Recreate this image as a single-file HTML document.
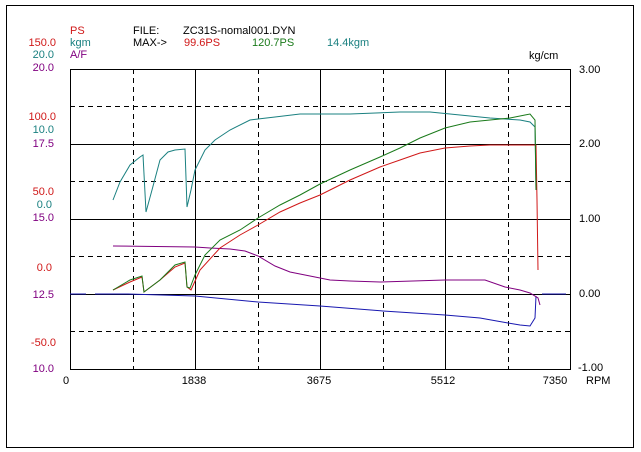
<!DOCTYPE html>
<html><head><meta charset="utf-8"><style>
body{margin:0;background:#fff}
svg{display:block}
text{font-family:"Liberation Sans",sans-serif;font-size:11px}
</style></head><body>
<svg width="641" height="452" xmlns="http://www.w3.org/2000/svg">
<rect width="641" height="452" fill="#fff"/>
<rect x="6.5" y="5.5" width="627" height="442" fill="none" stroke="#000"/>
<g stroke="#000" stroke-width="1">
<g stroke-dasharray="5,4">
<line x1="133.5" y1="69" x2="133.5" y2="369"/><line x1="258.5" y1="69" x2="258.5" y2="369"/>
<line x1="383.5" y1="69" x2="383.5" y2="369"/><line x1="508.5" y1="69" x2="508.5" y2="369"/>
<line x1="70" y1="106.5" x2="570" y2="106.5"/><line x1="70" y1="181.5" x2="570" y2="181.5"/>
<line x1="70" y1="256.5" x2="570" y2="256.5"/><line x1="70" y1="331.5" x2="570" y2="331.5"/>
</g>
<line x1="195.5" y1="69" x2="195.5" y2="369"/><line x1="320.5" y1="69" x2="320.5" y2="369"/><line x1="445.5" y1="69" x2="445.5" y2="369"/>
<line x1="70" y1="144.5" x2="570" y2="144.5"/><line x1="70" y1="219.5" x2="570" y2="219.5"/><line x1="70" y1="294.5" x2="570" y2="294.5"/>
<rect x="70.5" y="69.5" width="500" height="300" fill="none"/>
</g>
<g fill="none" stroke-width="1">
<polyline stroke="#1818b0" points="70,294 86,294"/>
<polyline stroke="#1818b0" points="95,294 128,294 195,296 258,302 320,306 383,311 445,315 480,318 508,323 520,325 530,326 535,318 536,296"/>
<polyline stroke="#1818b0" points="542,294 566,294"/>
<polyline stroke="#800080" points="113,246 195,247 210,248 230,249 245,251 258,256 275,266 290,272 310,276 330,280 350,281 380,282 445,280 485,280 505,287 520,290 530,293 538,298 540,305"/>
<polyline stroke="#1a8080" points="113,200 120,182 130,165 140,157 143,155 146,212 152,190 160,160 168,152 175,150 185,149 187,207 191,190 195,170 205,150 215,140 230,130 250,120 258,119 275,117 300,114 350,114 400,112 430,112 460,115 490,118 520,120 530,122 535,127 536,190"/>
<polyline stroke="#d01818" points="113,290 130,282 142,277 144,292 160,280 175,267 185,263 187,287 191,290 200,270 220,248 240,235 258,225 280,212 300,203 320,195 350,180 380,167 400,160 420,153 445,148 470,146 490,145 508,145 532,145 536,145 537,200 538,270"/>
<polyline stroke="#1a7a1a" points="113,290 130,280 142,276 144,292 160,280 175,265 185,262 187,287 190,288 195,275 205,255 220,240 240,230 258,218 280,205 300,195 320,184 350,170 380,157 400,148 420,138 445,128 470,122 490,120 510,118 525,115 530,114 535,120 536,190"/>
</g>
<g text-anchor="end">
<text x="56" y="46" fill="#d01818">150.0</text><text x="54" y="58" fill="#1a8080">20.0</text><text x="54" y="71" fill="#800080">20.0</text>
<text x="56" y="120" fill="#d01818">100.0</text><text x="54" y="133" fill="#1a8080">10.0</text><text x="54" y="147" fill="#800080">17.5</text>
<text x="54" y="195" fill="#d01818">50.0</text><text x="52" y="208" fill="#1a8080">0.0</text><text x="54" y="221" fill="#800080">15.0</text>
<text x="52" y="271" fill="#d01818">0.0</text>
<text x="54" y="298" fill="#800080">12.5</text>
<text x="56" y="346" fill="#d01818">-50.0</text>
<text x="54" y="372" fill="#800080">10.0</text>
</g>
<text x="70" y="34" fill="#d01818">PS</text><text x="70" y="46" fill="#1a8080">kgm</text><text x="70" y="58" fill="#800080">A/F</text>
<text x="133" y="34">FILE:</text><text x="183" y="34">ZC31S-nomal001.DYN</text>
<text x="133" y="46">MAX-&gt;</text><text x="184" y="46" fill="#d01818">99.6PS</text><text x="252" y="46" fill="#1a7a1a">120.7PS</text><text x="327" y="46" fill="#1a8080">14.4kgm</text>
<text x="529" y="59">kg/cm</text>
<text x="579" y="73">3.00</text><text x="579" y="147">2.00</text><text x="579" y="222">1.00</text><text x="579" y="297">0.00</text><text x="578" y="371">-1.00</text>
<text x="586" y="384">RPM</text>
<g text-anchor="middle"><text x="66" y="384">0</text><text x="194" y="384">1838</text><text x="319" y="384">3675</text><text x="443" y="384">5512</text><text x="555" y="384">7350</text></g>
</svg>
</body></html>
